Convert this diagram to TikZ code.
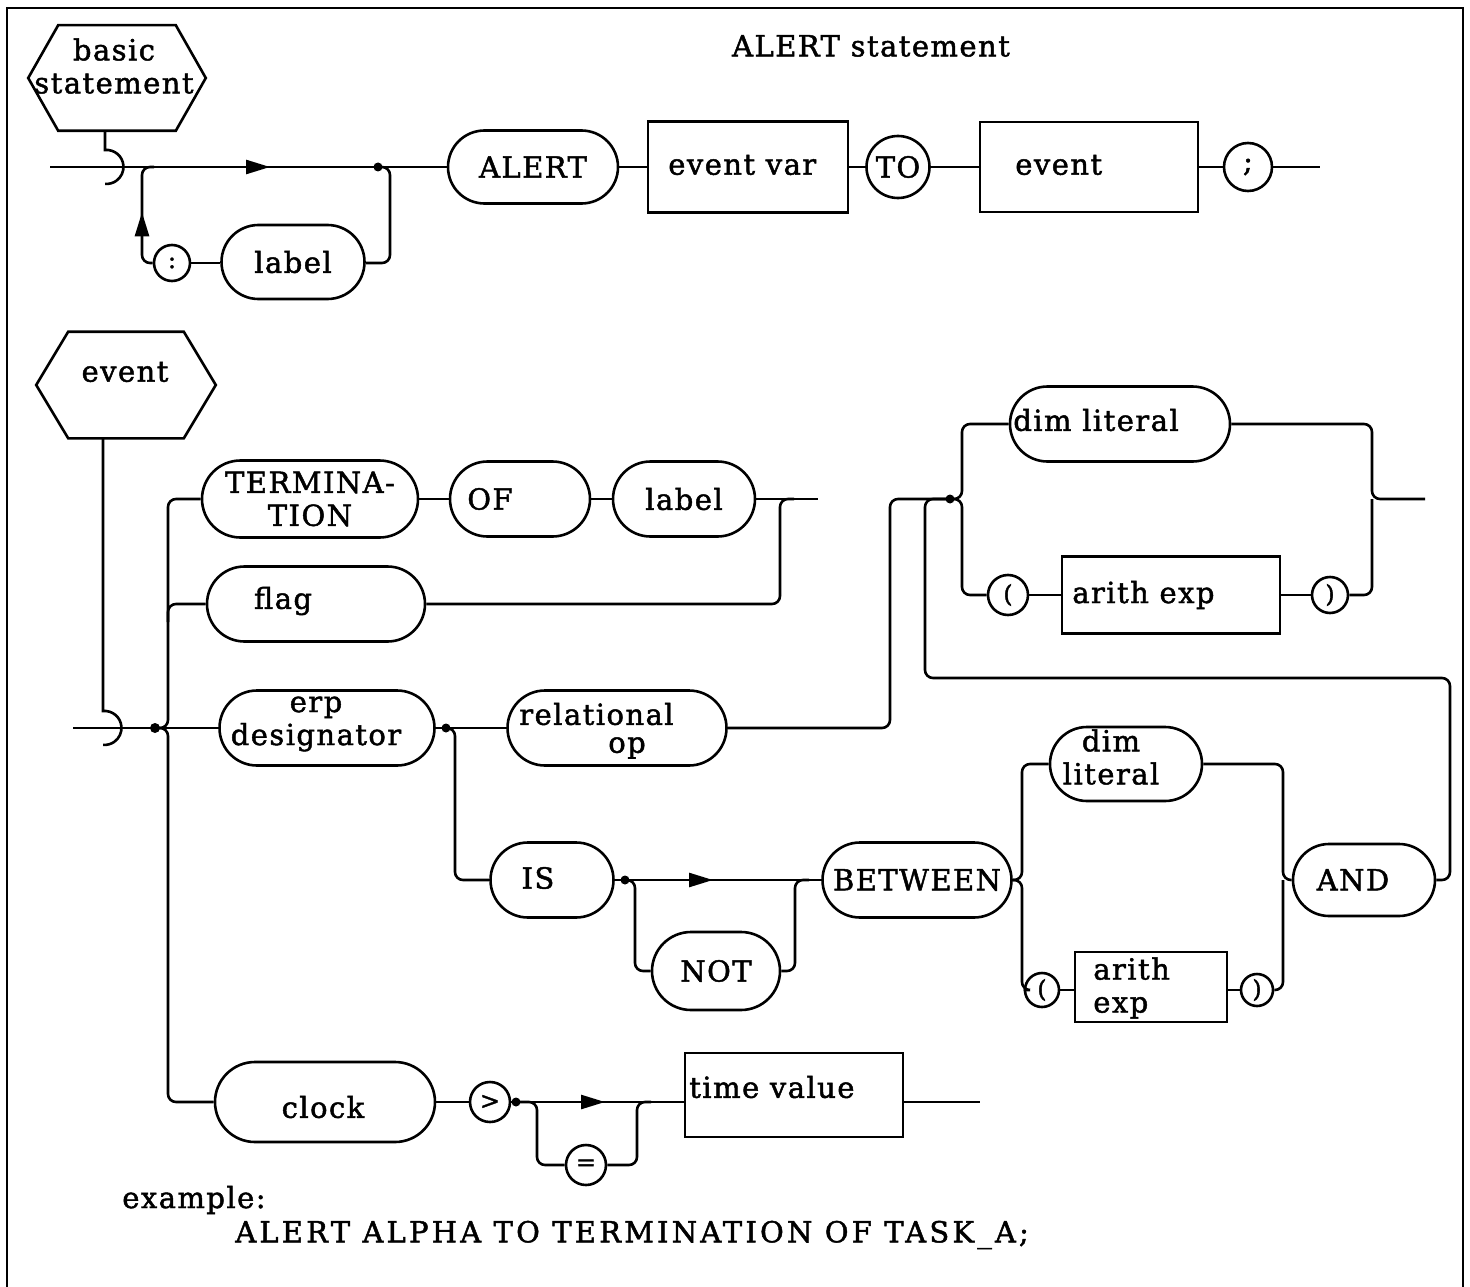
\documentclass[tikz,border=0pt]{standalone}
\usepackage{fontspec}
\setmainfont{DejaVu Serif}[LetterSpace=5,FakeBold=1.6]
\newfontfamily\widefont{DejaVu Serif}[LetterSpace=11,FakeBold=1.6]
\usetikzlibrary{shapes.misc,shapes.geometric,arrows.meta,decorations.markings}
\begin{document}
\begin{tikzpicture}[x=1pt,y=-1pt,
  font=\fontsize{29}{33}\selectfont,
  every path/.style={line width=2.6pt},
  txt/.style={inner sep=0pt, align=center},
  pill/.style={draw, rounded rectangle, line width=2.6pt, inner sep=0pt, align=center},
  bx/.style={draw, rectangle, line width=2.6pt, inner sep=0pt, align=center},
  circ/.style={draw, ellipse, line width=2.6pt, inner sep=0pt, align=center},
  small/.style={font=\fontsize{24}{26}\selectfont},
  rc/.style={rounded corners=8pt},
  arr/.style={postaction={decorate,decoration={markings,mark=at position #1 with {\arrow{Triangle[length=24pt,width=14pt]}}}}}
]
\useasboundingbox (0,0) rectangle (1470,1287);
% frame
\draw (7,1287) -- (7,8) -- (1463,8) -- (1463,1287);

% title
\node[txt] (title) at (871,46) {ALERT statement};

% ===== top diagram =====
\node[inner sep=0pt, minimum width=175pt, minimum height=103pt] (bs) at (117,78) {};
\draw (bs.west) -- ([xshift=30pt]bs.north west) -- ([xshift=-30pt]bs.north east) -- (bs.east)
  -- ([xshift=-30pt]bs.south east) -- ([xshift=30pt]bs.south west) -- cycle;
\node[txt] (bst) at (114,66) {basic\\statement};
\coordinate (s1) at (50,167);
\coordinate (j1) at (378,167);
\draw ([xshift=-12pt]bs.south) -- (105,150) arc[start angle=-95,end angle=95,radius=17];

\node[pill, minimum width=170pt, minimum height=73pt] (alert) at (533,167) {ALERT};
\node[bx, minimum width=200pt, minimum height=91pt] (evvar) at (748,167) {};
\node[txt, anchor=west] (evvart) at (667,165) {event var};
\node[circ, minimum width=56pt, minimum height=62pt] (to) at (898,167) {TO};
\node[bx, minimum width=218pt, minimum height=90pt] (event) at (1089,167) {};
\node[txt, anchor=west] (eventt) at (1014,165) {event};
\node[circ, minimum size=48pt] (semi) at (1248,167) {;};
\coordinate (ex1) at (1320,167);

\node[circ, small, minimum size=36pt] (colon) at (172,263) {:};
\node[pill, minimum width=143pt, minimum height=74pt] (label1) at (293,262) {label};

\draw[arr=220pt] (s1) -- (alert.west);
\fill (j1) circle[radius=4.5pt];
\draw[rc, arr=58pt] (colon.west) -- (142,263) -- (142,167) -- (154,167);
\draw (colon.east) -- (label1.west |- colon);
\draw[rc] (label1.east |- colon) -- (390,263) -- (390,167) -- (j1);
\draw (alert.east) -- (evvar.west);
\draw (evvar.east) -- (to.west);
\draw (to.east) -- (event.west);
\draw (event.east) -- (semi.west);
\draw (semi.east) -- (ex1);

% ===== event diagram =====
\node[inner sep=0pt, minimum width=177pt, minimum height=104pt] (ev) at (126,385) {};
\draw (ev.west) -- ([xshift=32pt]ev.north west) -- ([xshift=-32pt]ev.north east) -- (ev.east)
  -- ([xshift=-32pt]ev.south east) -- ([xshift=32pt]ev.south west) -- cycle;
\node[txt] (evt) at (125,372) {event};
\draw ([xshift=-23pt]ev.south) -- (103,711) arc[start angle=-95,end angle=95,radius=17];

\coordinate (s2) at (73,728);
\coordinate (j2) at (155,728);
\coordinate (j3) at (446,728);
\coordinate (j4) at (950,499);
\coordinate (j5) at (625,880);
\coordinate (j6) at (516,1102);
\coordinate (ex2) at (818,499);
\coordinate (ex3) at (1425,499);
\coordinate (ex4) at (980,1102);

\node[pill, minimum width=216pt, minimum height=77pt] (term) at (310,499) {TERMINA-\\TION};
\node[pill, minimum width=140pt, minimum height=75pt] (of) at (520,499) {};
\node[txt] (oft) at (490,499) {OF};
\node[pill, minimum width=142pt, minimum height=75pt] (lab2) at (684,499) {label};
\node[pill, minimum width=218pt, minimum height=75pt] (flag) at (316,604) {};
\node[txt] (flagt) at (283,601) {flag};
\node[pill, minimum width=215pt, minimum height=75pt] (erp) at (327,728) {};
\node[txt] (erpt) at (316,724) {erp\\designator};
\node[pill, minimum width=219pt, minimum height=75pt] (relop) at (617,728) {};
\node[txt, anchor=west] (relt1) at (518,714) {relational};
\node[txt, anchor=west] (relt2) at (607,748) {op};

\node[pill, minimum width=220pt, minimum height=75pt] (dimlit) at (1120,424) {};
\node[txt, anchor=west] (dimlitt) at (1012,420) {dim literal};
\node[circ, small, minimum size=40pt] (lpar1) at (1008,595) {(};
\node[bx, minimum width=218pt, minimum height=77pt] (arith1) at (1171,595) {};
\node[txt, anchor=west] (arith1t) at (1071,595) {arith exp};
\node[circ, small, minimum size=36pt] (rpar1) at (1330,595) {)};

\node[pill, minimum width=123pt, minimum height=75pt] (is) at (552,880) {};
\node[txt] (ist) at (538,878) {IS};
\node[pill, minimum width=128pt, minimum height=78pt] (not) at (716,971) {NOT};
\node[pill, minimum width=189pt, minimum height=75pt] (between) at (917,880) {BETWEEN};
\node[pill, minimum width=152pt, minimum height=74pt] (dimlit2) at (1126,764) {};
\node[txt] (dimlit2t) at (1111,757) {dim\\literal};
\node[circ, small, minimum size=34pt] (lpar2) at (1042,990) {(};
\node[bx, minimum width=152pt, minimum height=70pt] (arith2) at (1151,987) {};
\node[txt, anchor=west, align=left] (arith2t) at (1092,988) {arith\\exp};
\node[circ, small, minimum size=32pt] (rpar2) at (1257,990) {)};
\node[pill, minimum width=142pt, minimum height=72pt] (and) at (1364,880) {};
\node[txt] (andt) at (1353,880) {AND};

\node[pill, minimum width=220pt, minimum height=80pt] (clock) at (325,1102) {};
\node[txt] (clockt) at (323,1107) {clock};
\node[circ, small, minimum size=40pt] (gt) at (490,1102) {>};
\node[circ, small, minimum size=40pt] (eq) at (586,1165) {=};
\node[bx, minimum width=218pt, minimum height=84pt] (timev) at (794,1095) {};
\node[txt, anchor=west] (timevt) at (688,1087) {time value};

% connectors
\draw (s2) -- (erp.west);
\fill (j2) circle[radius=5pt];
\draw[rc] (term.west) -- (168,499) -- (168,728) -- (j2);
\draw[rc] (j2) -- (168,728) -- (168,1102) -- (clock.west);
\draw[rc] (flag.west) -- (168,604) -- (168,622);
\draw (term.east) -- (of.west);
\draw (of.east) -- (lab2.west);
\draw (lab2.east) -- (ex2);
\draw[rc] (flag.east) -- (780,604) -- (780,499) -- (794,499);

\draw (erp.east) -- (relop.west);
\fill (j3) circle[radius=4.5pt];
\draw[rc] (relop.east) -- (890,728) -- (890,499) -- (j4);
\fill (j4) circle[radius=4.5pt];
\draw[rc] (j4) -| (962,424) -- (dimlit.west);
\draw[rc] (j4) -| (962,595) -- (lpar1.west);
\draw (lpar1.east) -- (arith1.west);
\draw (arith1.east) -- (rpar1.west);
\draw[rc] (dimlit.east) -| (1372,499) -- (ex3);
\draw[rc] (rpar1.east) -| (1372,499);

\draw[rc] (j3) -| (455,880) -- (is.west);
\draw (is.east) -- (j5);
\fill (j5) circle[radius=4.5pt];
\draw[arr=88pt] (j5) -- (between.west);
\draw[rc] (j5) -| (635,971) -- (not.west);
\draw[rc] (not.east) -| (795,880) -- (809,880);
\draw[rc] (between.east) -| (1022,764) -- (dimlit2.west);
\draw[rc] (between.east) -| (1022,990) -- (lpar2.west);
\draw (lpar2.east) -- (arith2.west |- lpar2);
\draw (arith2.east |- rpar2) -- (rpar2.west);
\draw[rc] (dimlit2.east) -| (1283,880) -- (and.west);
\draw[rc] (rpar2.east) -| (1283,880);
\draw[rc] (and.east) -- (1450,880) -- (1450,678) -- (925,678) -- (925,499) -- (j4);

\draw (clock.east) -- (gt.west);
\draw (gt.east) -- (j6);
\fill (j6) circle[radius=4.5pt];
\draw[arr=89pt] (j6) -- (timev.west |- j6);
\draw[rc] (j6) -| (537,1165) -- (eq.west);
\draw[rc] (eq.east) -| (637,1102) -- (651,1102);
\draw (timev.east |- j6) -- (ex4);

% example
\node[txt, anchor=west] (exa) at (121,1200) {example:};
\node[txt, anchor=west, font=\widefont\fontsize{29}{33}\selectfont] (exb) at (234,1235) {ALERT ALPHA TO TERMINATION OF TASK\_A;};
\end{tikzpicture}
\end{document}
